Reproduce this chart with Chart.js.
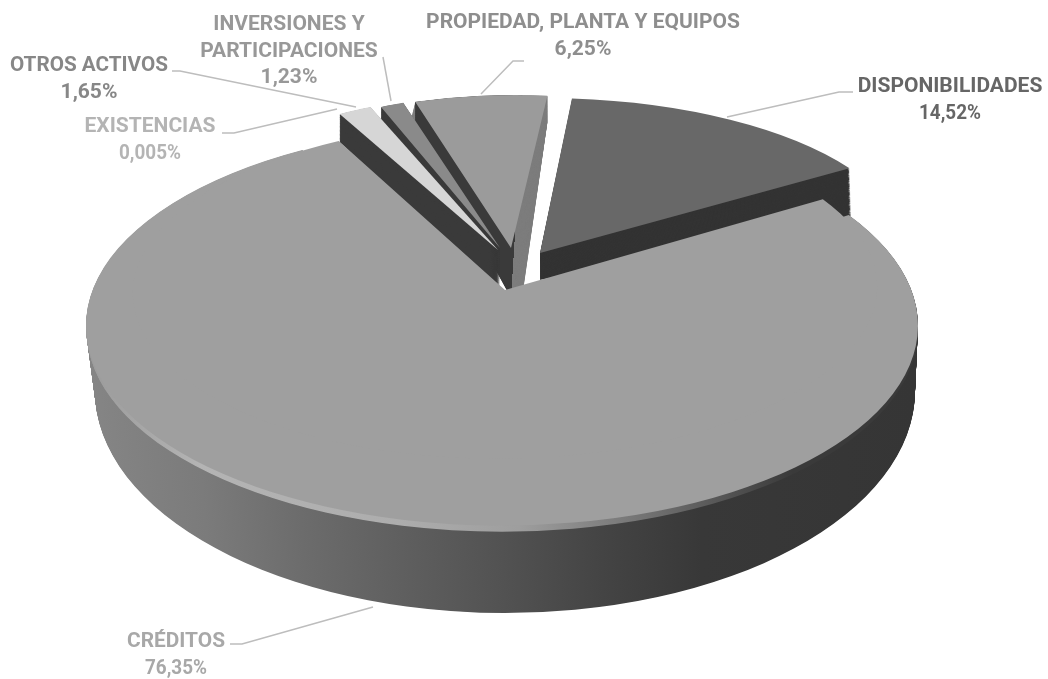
<!DOCTYPE html>
<html lang="es">
<head>
<meta charset="UTF-8">
<title>Activos</title>
<style>
    * { margin: 0; padding: 0; }
    body { background: #fff; }
    canvas { display: block; filter: blur(0.7px); }
</style>
<script src="https://cdn.jsdelivr.net/npm/chart.js"></script>
</head>
<body>
<canvas id="pie" width="1048" height="679"></canvas>
<script>
const categories = ['DISPONIBILIDADES', 'CRÉDITOS', 'EXISTENCIAS', 'OTROS ACTIVOS', 'INVERSIONES Y\nPARTICIPACIONES', 'PROPIEDAD, PLANTA Y EQUIPOS'];
const values = [14.52, 76.35, 0.005, 1.65, 1.23, 6.25];
const faceColors = ['#686868', '#9f9f9f', '#d6d6d6', '#d6d6d6', '#8a8a8a', '#9b9b9b'];
const textColors = ['#666666', '#a8a8a8', '#b4b4b4', '#878787', '#989898', '#8e8e8e'];

// where each slice's flat arc lands on the page, and how its side wall is extruded
const views = [
    { face: { x: 540, y: 253, sx: 368, sy: 155, kx: -5, ky: 1 }, walls: [{ to: { x: 540, y: 280, sx: 370, sy: 118, kx: -5, ky: 1 }, fill: '#333333' }] },
    { face: { x: 502, y: 325.5, sx: 416, sy: 200 }, walls: [{ to: { x: 505, y: 391, sx: 410, sy: 222 }, fill: 'front' }],
      // same arc again around the real apex, the picture is in perspective
      apex: { x: 505, y: 290, sx: 372, sy: 168.5, kx: -14, ky: 2.7 } },
    { face: { x: 498, y: 250, sx: 330, sy: 155 }, walls: [{ to: { x: 498, y: 292, sx: 330, sy: 171 }, fill: '#3a3a3a' }] },
    { face: { x: 498, y: 250, sx: 330, sy: 155 }, walls: [{ to: { x: 498, y: 292, sx: 330, sy: 171 }, fill: '#3a3a3a' }] },
    { face: { x: 500, y: 248, sx: 308, sy: 153 }, walls: [{ to: { x: 500, y: 290, sx: 308, sy: 170 }, fill: '#3a3a3a' }] },
    { face: { x: 511, y: 248, sx: 340, sy: 153, kx: -11.5, ky: 3 }, walls: [
        { to: { x: 521, y: 305, sx: 360, sy: 183 }, fill: '#7d7d7d' },
        { to: { x: 511, y: 298, sx: 340, sy: 183, kx: -11.5, ky: 3 }, fill: 'leftDark' }
    ] }
];
const paintOrder = [0, 5, 4, 2, 3, 1];

// label text centres and squeezed widths, leader lines
const labelBoxes = [
    { x: 950, y: 87, w: 186, leader: [[853, 92], [839, 92], [727, 117]] },
    { x: 176, y: 642, w: 98, leader: [[230, 644], [242, 644], [373, 607]] },
    { x: 150, y: 127, w: 132, leader: [[222, 133], [234, 133], [337, 109]] },
    { x: 89, y: 66, w: 158, leader: [[172, 71], [180, 71], [356, 107]] },
    { x: 289, y: 25, w: 180, leader: [[383, 57], [391, 101]] },
    { x: 583, y: 23, w: 315, leader: [[524, 61], [513, 61], [481, 94]] }
];

function lerp(a, b, t) {
    const mix = k => (a[k] || 0) + ((b[k] || 0) - (a[k] || 0)) * t;
    return { x: mix('x'), y: mix('y'), sx: mix('sx'), sy: mix('sy'), kx: mix('kx'), ky: mix('ky') };
}

function paint(ctx, arc, view, fill) {
    const R = arc.outerRadius, saved = arc.options;
    ctx.save();
    ctx.transform(view.sx / R, (view.ky || 0) / R, (view.kx || 0) / R, view.sy / R, view.x, view.y);
    ctx.translate(-arc.x, -arc.y);
    arc.options = Object.assign({}, saved, { backgroundColor: fill, borderWidth: 0 });
    arc.draw(ctx);
    arc.options = saved;
    ctx.restore();
}

function flatGradient(ctx, arc, stops) {
    const g = ctx.createLinearGradient(arc.x - arc.outerRadius, 0, arc.x + arc.outerRadius, 0);
    stops.forEach(s => g.addColorStop(s[0], s[1]));
    return g;
}

function wallFill(ctx, arc, name) {
    if (name === 'front') {
        return flatGradient(ctx, arc, [[0, '#858585'], [0.137, '#7b7b7b'], [0.257, '#6c6c6c'], [0.377, '#5f5f5f'],
            [0.5, '#525252'], [0.62, '#444444'], [0.74, '#383838'], [1, '#353535']]);
    }
    if (name === 'leftDark') {
        return flatGradient(ctx, arc, [[0, '#3a3a3a'], [0.5, '#3a3a3a'], [0.5, 'rgba(58,58,58,0)'], [1, 'rgba(58,58,58,0)']]);
    }
    return name;
}

const pie3d = {
    id: 'pie3d',
    beforeDatasetsDraw(chart) {
        const ctx = chart.ctx;
        const arcs = chart.getDatasetMeta(0).data;
        paintOrder.forEach(i => {
            const arc = arcs[i], view = views[i];
            view.walls.forEach(wall => {
                const steps = Math.ceil(Math.abs(wall.to.y - view.face.y) * 1.5);
                const fill = wallFill(ctx, arc, wall.fill);
                for (let s = steps; s >= 1; s--) {
                    paint(ctx, arc, lerp(view.face, wall.to, s / steps), fill);
                }
            });
            if (view.apex) {
                // soft light edge along the front rim
                const rim = flatGradient(ctx, arc, [[0, '#9a9a9a'], [0.137, '#b4b4b4'], [0.377, '#adadad'],
                    [0.52, '#9e9e9e'], [0.68, '#707070'], [0.85, '#3a3a3a'], [1, '#3a3a3a']]);
                for (let s = 7; s >= 1; s--) {
                    paint(ctx, arc, lerp(view.face, view.walls[0].to, s / 100), rim);
                }
            }
            paint(ctx, arc, view.face, faceColors[i]);
            if (view.apex) paint(ctx, arc, view.apex, faceColors[i]);
        });
        return false;
    },
    afterDraw(chart) {
        const ctx = chart.ctx;
        ctx.save();
        ctx.textAlign = 'center';
        ctx.textBaseline = 'middle';
        ctx.font = '700 21px Roboto';
        labelBoxes.forEach((box, i) => {
            ctx.strokeStyle = '#bdbdbd';
            ctx.lineWidth = 1.5;
            ctx.beginPath();
            box.leader.forEach((p, n) => n ? ctx.lineTo(p[0], p[1]) : ctx.moveTo(p[0], p[1]));
            ctx.stroke();

            ctx.fillStyle = textColors[i];
            const lines = categories[i].split('\n');
            lines.push(String(values[i]).replace('.', ',') + '%');
            lines.forEach((line, n) => {
                const w = ctx.measureText(line).width;
                const maxW = n === lines.length - 1 ? 62 : box.w;
                ctx.fillText(line, box.x, box.y + n * 26.5, Math.min(w, maxW));
            });
        });
        ctx.restore();
    }
};

new Chart(document.getElementById('pie'), {
    type: 'pie',
    data: {
        labels: categories,
        datasets: [{ data: values, backgroundColor: faceColors, borderWidth: 0 }]
    },
    options: {
        responsive: false,
        animation: false,
        rotation: 4.2,
        plugins: { legend: { display: false }, tooltip: { enabled: false } }
    },
    plugins: [pie3d]
});
</script>
</body>
</html>
